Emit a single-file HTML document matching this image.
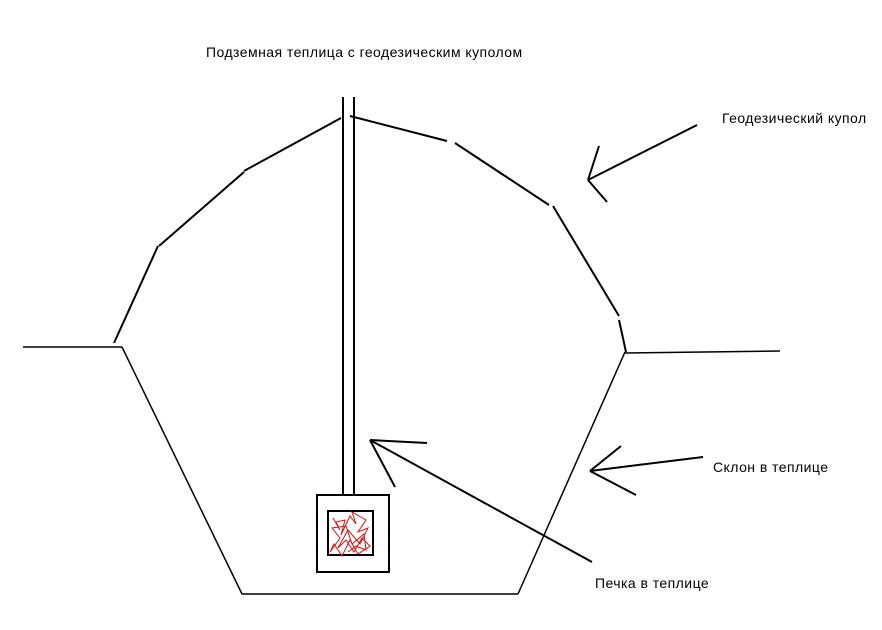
<!DOCTYPE html>
<html><head><meta charset="utf-8"><style>
html,body{margin:0;padding:0;background:#fff;}
svg{display:block;}
text{font-family:"Liberation Sans","DejaVu Sans",sans-serif;font-size:14px;letter-spacing:0.45px;fill:#000;}
</style></head><body>
<svg width="882" height="630" viewBox="0 0 882 630" xmlns="http://www.w3.org/2000/svg">
<g stroke="#000" stroke-width="2" fill="none" stroke-linecap="butt">
<line x1="114" y1="343" x2="158" y2="246"/>
<line x1="159" y1="246" x2="244" y2="172"/>
<line x1="244" y1="171" x2="341" y2="118"/>
<line x1="350" y1="116" x2="447" y2="141"/>
<line x1="455" y1="143" x2="549" y2="205"/>
<line x1="553" y1="206" x2="619" y2="316"/>
<line x1="619" y1="320" x2="626" y2="352"/>
</g>
<g stroke="#000" stroke-width="1.5" fill="none">
<line x1="23" y1="347" x2="122" y2="347"/>
<line x1="122" y1="347" x2="242" y2="594"/>
<line x1="242" y1="594" x2="518" y2="594"/>
<line x1="518" y1="594" x2="625" y2="352"/>
<line x1="625" y1="353" x2="780" y2="351"/>
</g>
<g stroke="#000" stroke-width="2" fill="none">
<line x1="343" y1="97" x2="343" y2="495"/>
<line x1="354" y1="97" x2="354" y2="495"/>
<rect x="317" y="495" width="72" height="77"/>
<rect x="328" y="511" width="45" height="44"/>
<line x1="427" y1="443" x2="370" y2="440"/>
<line x1="370" y1="440" x2="395" y2="487"/>
<line x1="370" y1="440" x2="592" y2="562"/>
<line x1="697" y1="125" x2="588" y2="180"/>
<line x1="588" y1="180" x2="599" y2="146"/>
<line x1="588" y1="180" x2="607" y2="202"/>
<line x1="703" y1="457" x2="590" y2="471"/>
<line x1="590" y1="471" x2="621" y2="446"/>
<line x1="590" y1="471" x2="636" y2="495"/>
</g>
<polyline stroke="#e01010" stroke-width="1" fill="none" points="333,518 340,530 336,522 345,520 341,535 350,516 356,524 352,512 366,520 358,532 368,528 360,544 348,530 338,548 346,540 354,552 362,538 370,546 358,554 350,540 342,556 334,544 330,552 340,538 332,528 346,526 352,544 364,534 366,550 356,546 348,552"/>
<text x="206" y="57">Подземная теплица с геодезическим куполом</text>
<text x="722" y="123">Геодезический купол</text>
<text x="713" y="472">Склон в теплице</text>
<text x="595" y="588">Печка в теплице</text>
</svg>
</body></html>
